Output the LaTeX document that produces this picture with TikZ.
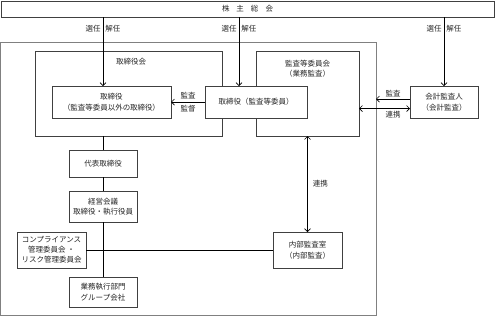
\documentclass[tikz,border=0pt]{standalone}
\usepackage{fontspec}
\setmainfont{Noto Sans CJK JP}
\newfontfamily\paltfont{Noto Sans CJK JP}[RawFeature=+palt]
\usetikzlibrary{arrows.meta,calc}

\begin{document}
\begin{tikzpicture}[x=1pt,y=-1pt,font=\fontsize{7.5}{10.5}\selectfont,>={Straight Barb[length=3pt,width=6pt]},line width=0.7pt,
  box/.style={rectangle,draw=black!75,fill=white,align=center,inner sep=0pt,outer sep=0pt,text=black!85},
  grp/.style={rectangle,draw=black!75,inner sep=0pt,outer sep=0pt},
  lbl/.style={inner sep=2pt,text=black!85,align=center}]
\useasboundingbox (0,0) rectangle (496,317);
\node[grp,draw=black!50,minimum width=375.5pt,minimum height=273pt] (outer) at (188.25,178.5) {};
\node[box,minimum width=493pt,minimum height=16pt] (soukai) at (247.5,9) {株\hspace{7pt}主\hspace{7pt}総\hspace{7pt}会};
\node[grp,minimum width=187pt,minimum height=85pt] (torikai) at (128.5,93.5) {};
\node[grp,minimum width=103pt,minimum height=85pt] (kansa) at (307.5,93.5) {};
\node[lbl] (torikailbl) at (131,62) {取締役会};
\node[lbl] (kansalbl) at (307.5,68.5) {監査等委員会\\（業務監査）};
\node[box,minimum width=119pt,minimum height=32pt] (dirA) at (111.5,102) {取締役\\{\paltfont（監査等委員以外の取締役）}};
\node[box,minimum width=102pt,minimum height=32pt] (dirB) at (256,102) {取締役（監査等委員）};
\node[box,minimum width=68pt,minimum height=32pt] (kaikei) at (444,102) {会計監査人\\（会計監査）};
\node[box,minimum width=68pt,minimum height=27pt] (daihyo) at (103,163.5) {代表取締役};
\node[box,minimum width=68pt,minimum height=31pt] (keiei) at (103,206.5) {経営会議\\取締役・執行役員};
\node[box,minimum width=69pt,minimum height=36pt,font=\fontsize{7.5}{10}\selectfont] (comp) at (51.5,250) {コンプライアンス\\管理委員会\ ・\\リスク管理委員会};
\node[box,minimum width=68pt,minimum height=30pt] (gyomu) at (103,292) {業務執行部門\\グループ会社};
\node[box,minimum width=69pt,minimum height=36pt] (naibu) at (307.5,250) {内部監査室\\（内部監査）};
\coordinate (mid) at (239,0);
\draw[->] (soukai.south -| daihyo) -- node[lbl,pos=0.17,left] {選任} node[lbl,pos=0.17,right] {解任} (dirA.north -| daihyo);
\draw[->] (soukai.south -| mid) -- node[lbl,pos=0.17,left] {選任} node[lbl,pos=0.17,right] {解任} (dirB.north -| mid);
\draw[->] (soukai.south -| kaikei) -- node[lbl,pos=0.17,left] {選任} node[lbl,pos=0.17,right] {解任} (kaikei.north);
\draw[->] (dirB.west) -- node[lbl,above,yshift=1pt] {監査} node[lbl,below,yshift=-1pt] {監督} (dirA.east);
\draw[->] ([yshift=3pt]kaikei.west) -- node[lbl,above] {監査} ([yshift=3pt]kaikei.west -| outer.east);
\draw[<->] ([yshift=-6.5pt]kaikei.west) -- node[lbl,pos=0.33,below] {連携} ([yshift=-6.5pt]kaikei.west -| kansa.east);
\draw (torikai.south -| daihyo) -- (daihyo.north);
\draw (daihyo) -- (keiei);
\draw (keiei) -- (gyomu);
\draw (comp) -- (naibu);
\draw[<->] (kansa.south -| naibu) -- node[lbl,right,xshift=3pt] {連携} (naibu.north);
\end{tikzpicture}
\end{document}
